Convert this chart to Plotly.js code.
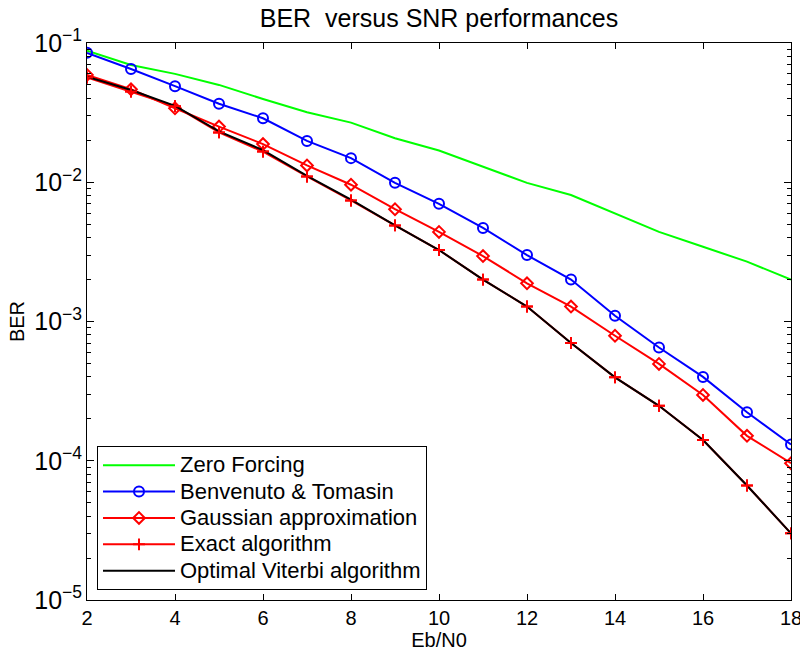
<!DOCTYPE html>
<html>
<head>
<meta charset="utf-8">
<script src="https://cdn.plot.ly/plotly-3.0.1.min.js"></script>
<style>html,body{margin:0;padding:0;background:#fff;}#chart{width:800px;height:654px;}</style>
</head>
<body>
<div id="chart"></div>
<script>
const ebn0 = [2,3,4,5,6,7,8,9,10,11,12,13,14,15,16,17,18];
const zeroForcing = [0.088,0.0695,0.060,0.050,0.0396,0.0318,0.0268,0.0207,0.0169,0.0129,0.0099,0.0081,0.0060,0.0044,0.00344,0.00269,0.0020];
const benvenuto = [0.085,0.065,0.049,0.0366,0.0288,0.0198,0.0149,0.0099,0.0070,0.0047,0.0030,0.0020,0.0011,0.00065,0.00040,0.000223,0.000131];
const gaussian = [0.059,0.0465,0.034,0.0251,0.0188,0.0132,0.0096,0.0064,0.0044,0.00295,0.00188,0.00128,0.00079,0.000496,0.000297,0.000151,0.000096];
const exact = [0.0565,0.0448,0.0352,0.0228,0.0166,0.0110,0.0074,0.0049,0.00326,0.0020,0.00128,0.00070,0.000397,0.000248,0.000141,0.0000664,0.0000301];
const viterbi = [0.0573,0.0460,0.0354,0.0232,0.0170,0.0111,0.0075,0.0049,0.00326,0.0020,0.00128,0.00070,0.000397,0.000248,0.000141,0.0000664,0.0000301];
const seriesNames = ["Zero Forcing","Benvenuto & Tomasin","Gaussian approximation","Exact algorithm","Optimal Viterbi algorithm"];
const xTicks = [2,4,6,8,10,12,14,16,18];
const yDecades = [-5,-4,-3,-2];
const minorDigits = [2,3,4,5,6,7,8,9];

const minorVals = [];
yDecades.forEach(function(e){ minorDigits.forEach(function(d){ minorVals.push(d * Math.pow(10, e)); }); });

const FONT = "Liberation Sans, Arial, Helvetica, sans-serif";
function legName(s){ return '<span style="font-size:22px">' + s + '</span>'; }

const crossMarker = {symbol: "cross-thin-open", size: 8.5, color: "#ff0000", line: {width: 2, color: "#ff0000"}};

const traces = [
  {x: ebn0, y: zeroForcing, name: legName(seriesNames[0]), mode: "lines",
   line: {color: "#00ff00", width: 2}},
  {x: ebn0, y: benvenuto, name: legName(seriesNames[1]), mode: "lines+markers",
   line: {color: "#0000ff", width: 2},
   marker: {symbol: "circle-open", size: 10, color: "#0000ff", line: {width: 2, color: "#0000ff"}}},
  {x: ebn0, y: gaussian, name: legName(seriesNames[2]), mode: "lines+markers",
   line: {color: "#ff0000", width: 2},
   marker: {symbol: "diamond-open", size: 9, color: "#ff0000", line: {width: 2, color: "#ff0000"}}},
  {x: ebn0, y: exact, name: legName(seriesNames[3]), mode: "lines+markers",
   line: {color: "#ff0000", width: 2}, marker: crossMarker},
  {x: ebn0, y: viterbi, name: legName(seriesNames[4]), mode: "lines",
   line: {color: "#000000", width: 2}},
  {x: ebn0, y: exact, name: seriesNames[3], mode: "markers", marker: crossMarker,
   showlegend: false, hoverinfo: "skip"}
];

const layout = {
  width: 800, height: 654,
  paper_bgcolor: "#ffffff", plot_bgcolor: "#ffffff",
  margin: {l: 87, r: 9, t: 43, b: 54, pad: 0},
  font: {family: FONT, size: 20, color: "#000"},
  title: {text: "BER  versus SNR performances", font: {family: FONT, size: 25, color: "#000"},
          x: 0.5, xref: "paper", xanchor: "center", y: 0.972, yref: "container", yanchor: "middle"},
  showlegend: true,
  legend: {x: 0.0142, y: 0.018, xanchor: "left", yanchor: "bottom",
           bgcolor: "#ffffff", bordercolor: "#000000", borderwidth: 1,
           font: {family: FONT, size: 18, color: "#000"}, itemwidth: 72, tracegroupgap: 0},
  xaxis: {
    range: [2, 18], tickvals: xTicks, ticktext: xTicks.map(String),
    ticks: "inside", ticklen: 6, tickwidth: 1, tickcolor: "#000",
    showline: true, linecolor: "#000", linewidth: 1, mirror: "ticks",
    showgrid: false, zeroline: false, ticklabeloverflow: "allow",
    tickfont: {family: FONT, size: 20, color: "#000"},
    title: {text: "Eb/N0", font: {family: FONT, size: 20, color: "#000"}, standoff: 4}
  },
  yaxis: {
    type: "log", range: [-5, -1], dtick: 1, exponentformat: "power",
    ticks: "inside", ticklen: 7, tickwidth: 1, tickcolor: "#000",
    showline: true, linecolor: "#000", linewidth: 1, mirror: "ticks",
    showgrid: false, zeroline: false,
    tickfont: {family: FONT, size: 20, color: "#000"},
    title: {text: "BER", font: {family: FONT, size: 20, color: "#000"}, standoff: 4}
  },
  yaxis2: {
    type: "log", range: [-5, -1], overlaying: "y", anchor: "x", side: "left",
    tickvals: minorVals, showticklabels: false,
    ticks: "inside", ticklen: 4, tickwidth: 1, tickcolor: "#000",
    showline: false, mirror: "ticks", showgrid: false, zeroline: false
  }
};

traces.push({x: [ebn0[0]], y: [minorVals[0]], yaxis: "y2", mode: "markers",
  marker: {opacity: 0}, showlegend: false, hoverinfo: "skip"});

Plotly.newPlot("chart", traces, layout, {displayModeBar: false, staticPlot: true});
</script>
</body>
</html>
